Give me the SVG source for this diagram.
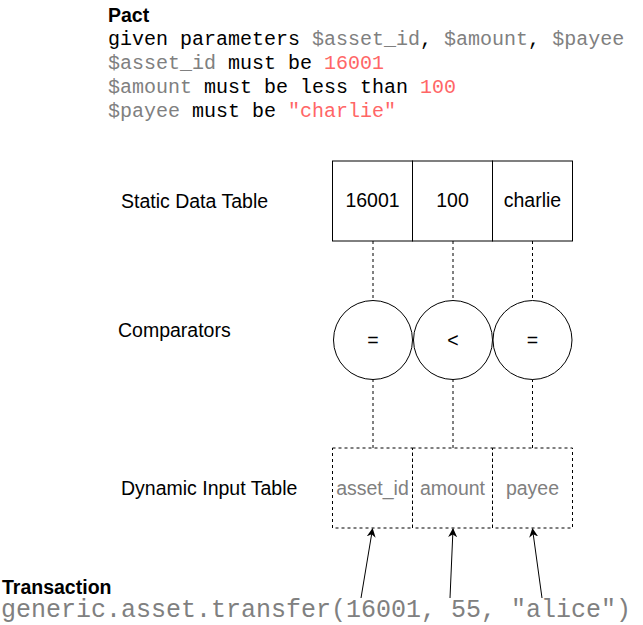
<svg xmlns="http://www.w3.org/2000/svg" width="643" height="625" viewBox="0 0 643 625">
<defs>
<style>
.sans{font-family:"Liberation Sans",Arial,sans-serif;font-size:19.5px;fill:#000}
.bold{font-weight:bold}
.mono{font-family:"Liberation Mono","Courier New",monospace;font-size:20px;fill:#000}
.g{fill:#808080}
.r{fill:#FF6666}
.box{fill:#fff;stroke:#000;stroke-width:1}
.dbox{fill:#fff;stroke:#000;stroke-width:1;stroke-dasharray:3 3}
.dash{stroke:#000;stroke-width:1;stroke-dasharray:3 3;fill:none}
.arr{stroke:#000;stroke-width:1;fill:none;marker-end:url(#ah)}
.c{text-anchor:middle}
</style>
<marker id="ah" viewBox="0 0 10 10" refX="9" refY="5" markerWidth="9" markerHeight="9" markerUnits="userSpaceOnUse" orient="auto">
<path d="M0,0 L10,5 L0,10 L3,5 Z" fill="#000"/>
</marker>
</defs>
<rect width="643" height="625" fill="#fff"/>

<g id="pact">
<text class="sans bold" x="108" y="22">Pact</text>
<text class="mono" x="108" y="45">given parameters <tspan class="g">$asset_id</tspan>, <tspan class="g">$amount</tspan>, <tspan class="g">$payee</tspan></text>
<text class="mono" x="108" y="69"><tspan class="g">$asset_id</tspan> must be <tspan class="r">16001</tspan></text>
<text class="mono" x="108" y="93"><tspan class="g">$amount</tspan> must be less than <tspan class="r">100</tspan></text>
<text class="mono" x="108" y="117"><tspan class="g">$payee</tspan> must be <tspan class="r">"charlie"</tspan></text>
</g>

<g id="labels">
<text class="sans" x="121" y="208">Static Data Table</text>
<text class="sans" x="118" y="337">Comparators</text>
<text class="sans" x="121" y="495">Dynamic Input Table</text>
</g>

<g id="connectors">
<line class="dash" x1="373" y1="241" x2="373" y2="301"/>
<line class="dash" x1="453" y1="241" x2="453" y2="301" stroke="#666"/>
<line class="dash" x1="532.5" y1="241" x2="532.5" y2="301"/>
<line class="dash" x1="373" y1="379" x2="373" y2="448"/>
<line class="dash" x1="453" y1="379" x2="453" y2="448"/>
<line class="dash" x1="532.5" y1="379" x2="532.5" y2="448"/>
<line class="arr" x1="361" y1="598" x2="372.5" y2="529"/>
<line class="arr" x1="450" y1="598" x2="453" y2="529"/>
<line class="arr" x1="542" y1="598" x2="532.5" y2="529"/>
</g>

<g id="static-16001"><rect class="box" x="332.5" y="161" width="80" height="80"/><text class="sans c" x="372.5" y="207">16001</text></g>
<g id="static-100"><rect class="box" x="412.5" y="161" width="80" height="80"/><text class="sans c" x="452.5" y="207">100</text></g>
<g id="static-charlie"><rect class="box" x="492.5" y="161" width="80" height="80"/><text class="sans c" x="532.5" y="207">charlie</text></g>

<g id="cmp-eq1"><circle class="box" cx="373" cy="340" r="39.5"/><text class="sans c" x="373" y="347">=</text></g>
<g id="cmp-lt"><circle class="box" cx="453" cy="340" r="39.5"/><text class="sans c" x="453" y="347">&lt;</text></g>
<g id="cmp-eq2"><circle class="box" cx="532.5" cy="340" r="39.5"/><text class="sans c" x="532.5" y="347">=</text></g>

<g id="dyn-asset_id"><rect class="dbox" x="332.5" y="448" width="80" height="80"/><text class="sans c g" x="372.5" y="495">asset_id</text></g>
<g id="dyn-amount"><rect class="dbox" x="412.5" y="448" width="80" height="80"/><text class="sans c g" x="452.5" y="495">amount</text></g>
<g id="dyn-payee"><rect class="dbox" x="492.5" y="448" width="80" height="80"/><text class="sans c g" x="532.5" y="495">payee</text></g>

<g id="transaction">
<text class="sans bold" x="2" y="594">Transaction</text>
<text class="mono g" x="1" y="617" style="font-size:25px">generic.asset.transfer(16001, 55, "alice")</text>
</g>
</svg>
